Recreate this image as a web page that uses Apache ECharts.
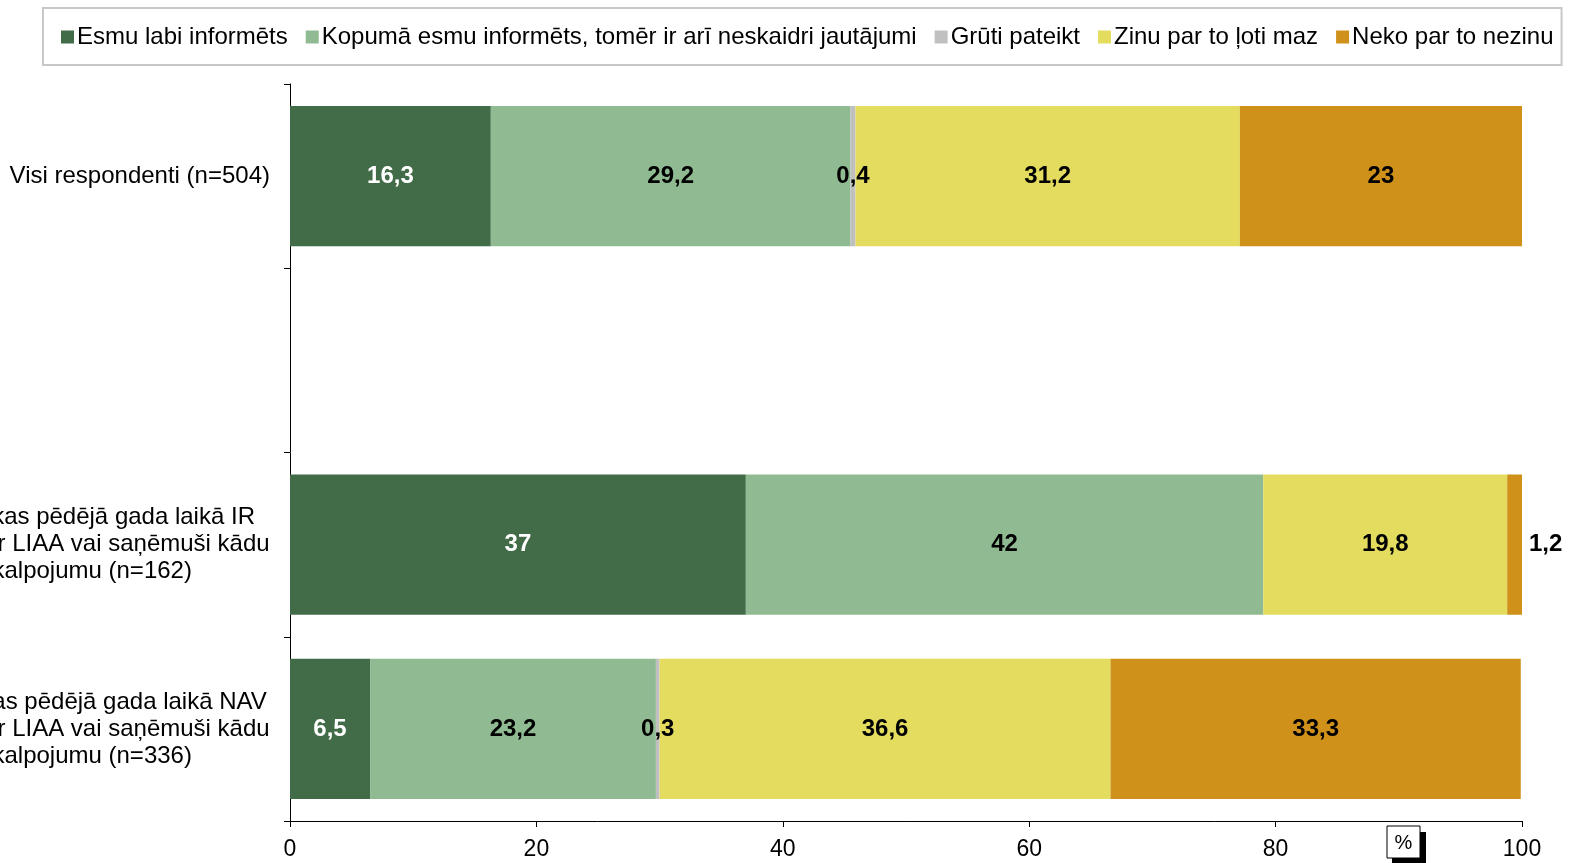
<!DOCTYPE html>
<html>
<head>
<meta charset="utf-8">
<script src="https://cdn.jsdelivr.net/npm/echarts@6/dist/echarts.min.js"></script>
<style>
html,body{margin:0;padding:0;background:#fff;}
#chart{width:1574px;height:863px;}
</style>
</head>
<body>
<div id="chart"></div>
<script>
const categories = [
  'Visi respondenti (n=504)',
  '',
  'Respondenti, kas pēdējā gada laikā IR\nsadarbojušies ar LIAA vai saņēmuši kādu\nLIAA pakalpojumu (n=162)',
  'Respondenti, kas pēdējā gada laikā NAV\nsadarbojušies ar LIAA vai saņēmuši kādu\nLIAA pakalpojumu (n=336)'
];
const seriesNames = [
  'Esmu labi informēts',
  'Kopumā esmu informēts, tomēr ir arī neskaidri jautājumi',
  'Grūti pateikt',
  'Zinu par to ļoti maz',
  'Neko par to nezinu'
];
const wellInformed   = [16.3, null, 37,   6.5];
const mostlyInformed = [29.2, null, 42,   23.2];
const hardToSay      = [0.4,  null, 0,    0.3];
const knowLittle     = [31.2, null, 19.8, 36.6];
const knowNothing    = [23,   null, 1.2,  33.3];
const xTicks = [0, 20, 40, 60, 80, 100];

const values = [wellInformed, mostlyInformed, hardToSay, knowLittle, knowNothing];
const colors = ['#426B47', '#90BB92', '#C0C0C0', '#E3DC5F', '#CF9119'];
const labelColors = ['#ffffff', '#000000', '#000000', '#000000', '#000000'];
const FONT = 'Liberation Sans, Arial, sans-serif';

// measure widest line of multi-line category labels so lines can be centred in a block
const ctx = document.createElement('canvas').getContext('2d');
ctx.font = '24px ' + FONT;
let maxLineW = 0;
categories.forEach(c => {
  const ls = c.split('\n');
  if (ls.length > 1) ls.forEach(l => { maxLineW = Math.max(maxLineW, ctx.measureText(l).width); });
});
maxLineW = Math.ceil(maxLineW);

const fmt = p => (p.value === null || p.value === 0) ? '' : String(p.value).replace('.', ',');

const series = values.map((arr, i) => ({
  name: seriesNames[i],
  type: 'bar',
  stack: 'total',
  barCategoryGap: '24%',
  itemStyle: { color: colors[i] },
  label: {
    show: true,
    position: 'inside',
    color: labelColors[i],
    fontFamily: FONT,
    fontWeight: 'bold',
    fontSize: 24,
    formatter: fmt
  },
  data: arr.map(v => {
    if (i === 4 && v !== null && v < 5) {
      return { value: v, label: { position: 'right', distance: 7 } };
    }
    return v;
  })
}));

const chart = echarts.init(document.getElementById('chart'), null, { renderer: 'canvas' });
chart.setOption({
  animation: false,
  color: colors,
  textStyle: { fontFamily: FONT },
  legend: {
    left: 43,
    top: 8,
    padding: [17, 8, 16, 18],
    borderColor: '#c8c8c8',
    borderWidth: 2,
    itemWidth: 13,
    itemHeight: 13,
    itemGap: 18,
    icon: 'rect',
    textStyle: { fontSize: 24, color: '#000', padding: [0, 0, 0, -2] },
    data: seriesNames
  },
  grid: { left: 290, right: 52, top: 84, bottom: 42, containLabel: false, outerBoundsMode: 'none' },
  xAxis: {
    type: 'value',
    min: 0,
    max: 100,
    interval: 20,
    splitLine: { show: false },
    axisLine: { show: true, lineStyle: { color: '#000', width: 1 } },
    axisTick: { show: true, length: 6, lineStyle: { color: '#000' } },
    axisLabel: {
      fontSize: 23, color: '#000', margin: 17,
      formatter: v => xTicks.includes(v) ? String(v) : ''
    }
  },
  yAxis: {
    type: 'category',
    inverse: true,
    data: categories,
    axisLine: { show: true, lineStyle: { color: '#000', width: 1 } },
    axisTick: { show: true, length: 6, lineStyle: { color: '#000' } },
    axisLabel: {
      fontSize: 24, color: '#000', margin: 20, lineHeight: 27, align: 'right',
      formatter: v => {
        const ls = v.split('\n');
        if (ls.length < 2) return v;
        return ls.map(l => '{c|' + l + '}').join('\n');
      },
      rich: {
        c: { width: maxLineW, align: 'center', fontSize: 24, lineHeight: 27, color: '#000', fontFamily: FONT }
      }
    }
  },
  graphic: [
    { type: 'rect', shape: { x: 1392, y: 832, width: 34, height: 31 }, style: { fill: '#000' }, z: 10 },
    { type: 'rect', shape: { x: 1387, y: 826, width: 33, height: 32 }, style: { fill: '#fff', stroke: '#000', lineWidth: 1 }, z: 11 },
    { type: 'text', x: 1403.5, y: 843, style: { text: '%', fontSize: 20, fill: '#000', align: 'center', verticalAlign: 'middle', fontFamily: FONT }, z: 12 }
  ],
  series: series
});
</script>
</body>
</html>
